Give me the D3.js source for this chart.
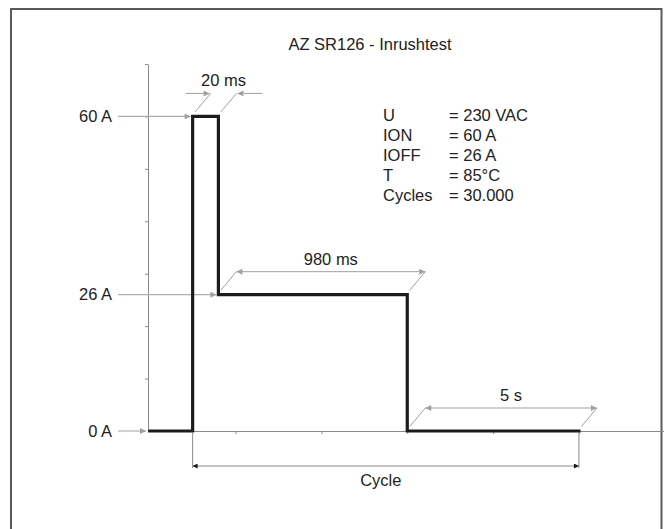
<!DOCTYPE html>
<html>
<head>
<meta charset="utf-8">
<script src="https://cdn.jsdelivr.net/npm/d3@7/dist/d3.min.js"></script>
<style>
  body { margin: 0; background: #fff; }
  svg text { font-family: Arial, "Liberation Sans", sans-serif; fill: #222; }
</style>
</head>
<body>
<div id="inrush-chart"></div>
<script>
// waveform of one test cycle (time in chart units, current in A)
var waveTime = [0, 0.5, 0.5, 0.8, 0.8, 3, 3, 5];
var waveCurrent = [0, 0, 60, 60, 26, 26, 0, 0];

// current levels marked on the left
var levelValues = [60, 26, 0];
var levelTargets = [0.5, 0.8, -0.02];   // where each level arrow points to

// dimension annotations
var dimLabels = ["20 ms", "980 ms", "5 s"];
var dimStart = [0.5, 0.8, 3];
var dimEnd = [0.8, 3, 5];
var dimBase = [60, 26, 0];

var cycleLabel = "Cycle";
var cycleStart = 0.5, cycleEnd = 5;

// test parameters
var paramNames = ["U", "ION", "IOFF", "T", "Cycles"];
var paramValues = ["= 230 VAC", "= 60 A", "= 26 A", "= 85°C", "= 30.000"];

var title = "AZ SR126 - Inrushtest";

var width = 664, height = 529;
var fs = 16.5;

var svg = d3.select("#inrush-chart").append("svg")
    .attr("width", width).attr("height", height);

var defs = svg.append("defs");
function marker(id, color, w, h) {
    defs.append("marker").attr("id", id)
        .attr("viewBox", "0 0 10 10").attr("refX", 10).attr("refY", 5)
        .attr("markerUnits", "userSpaceOnUse")
        .attr("markerWidth", w).attr("markerHeight", h)
        .attr("orient", "auto-start-reverse")
        .append("path").attr("d", "M0,0L10,5L0,10z").attr("fill", color);
}
marker("arr-gray", "#a0a0a0", 9, 6);
marker("arr-dark", "#1a1a1a", 7, 5);

var x = d3.scaleLinear().domain([-0.02, 6]).range([148, 664.8]);
var y = d3.scaleLinear().domain([0, 70]).range([431, 64]);

// frame
svg.append("rect").attr("x", 11).attr("y", 9).attr("width", 650.5).attr("height", 540)
    .attr("fill", "none").attr("stroke", "#5a5a5a").attr("stroke-width", 2);

svg.append("text").attr("x", 370).attr("y", 50).attr("text-anchor", "middle")
    .style("font-size", fs + "px").text(title);

// axes
var yAxis = svg.append("g").attr("transform", "translate(" + x(-0.02) + ",0)")
    .call(d3.axisLeft(y).tickValues([10, 20, 30, 40, 50, 60, 70]).tickFormat("").tickSizeInner(3).tickSizeOuter(0));
var xAxis = svg.append("g").attr("transform", "translate(0," + y(0) + ")")
    .call(d3.axisBottom(x).tickValues([1, 2, 3, 4, 5]).tickFormat("").tickSizeInner(3).tickSizeOuter(0));
svg.selectAll(".domain, .tick line").attr("stroke", "#8a8a8a").attr("stroke-width", 1);

// level arrows and labels
levelValues.forEach(function (v, i) {
    svg.append("line")
        .attr("x1", 118).attr("x2", x(levelTargets[i]) - 2)
        .attr("y1", y(v)).attr("y2", y(v))
        .attr("stroke", "#b0b0b0").attr("stroke-width", 1.2)
        .attr("marker-end", "url(#arr-gray)");
    svg.append("text").attr("x", 112).attr("y", y(v)).attr("dy", "0.35em")
        .attr("text-anchor", "end").style("font-size", fs + "px")
        .text(v + " A");
});

// waveform
var wave = waveTime.map(function (t, i) { return [t, waveCurrent[i]]; });
svg.append("path").datum(wave)
    .attr("d", d3.line().x(function (d) { return x(d[0]); }).y(function (d) { return y(d[1]); }))
    .attr("fill", "none").attr("stroke", "#1c1c1c").attr("stroke-width", 3.2)
    .attr("stroke-linejoin", "miter").attr("stroke-linecap", "square");

// slanted dimension annotations
var dimColor = "#a0a0a0";
dimLabels.forEach(function (lab, i) {
    var yb = y(dimBase[i]);
    var ay = yb - 23;
    var ends = [dimStart[i], dimEnd[i]].map(function (t) { return x(t) + 18; });
    [dimStart[i], dimEnd[i]].forEach(function (t, k) {
        svg.append("line")
            .attr("x1", x(t) + 2.5).attr("y1", yb - 4.5)
            .attr("x2", ends[k]).attr("y2", ay)
            .attr("stroke", dimColor).attr("stroke-width", 1);
    });
    if (x(dimEnd[i]) - x(dimStart[i]) < 40) {
        svg.append("line").attr("x1", ends[0] - 25).attr("x2", ends[0] - 1)
            .attr("y1", ay).attr("y2", ay)
            .attr("stroke", dimColor).attr("marker-end", "url(#arr-gray)");
        svg.append("line").attr("x1", ends[1] + 26).attr("x2", ends[1] + 1)
            .attr("y1", ay).attr("y2", ay)
            .attr("stroke", dimColor).attr("marker-end", "url(#arr-gray)");
    } else {
        svg.append("line").attr("x1", ends[0]).attr("x2", ends[1])
            .attr("y1", ay).attr("y2", ay)
            .attr("stroke", dimColor)
            .attr("marker-start", "url(#arr-gray)").attr("marker-end", "url(#arr-gray)");
    }
    svg.append("text").attr("x", (ends[0] + ends[1]) / 2).attr("y", ay - 7)
        .attr("text-anchor", "middle").style("font-size", fs + "px").text(lab);
});

// cycle dimension
var cy = y(0) + 35;
[cycleStart, cycleEnd].forEach(function (t) {
    svg.append("line").attr("x1", x(t)).attr("x2", x(t))
        .attr("y1", y(0) + 1).attr("y2", cy + 2)
        .attr("stroke", "#8a8a8a").attr("stroke-width", 1);
});
svg.append("line").attr("x1", x(cycleStart)).attr("x2", x(cycleEnd))
    .attr("y1", cy).attr("y2", cy)
    .attr("stroke", "#8a8a8a").attr("stroke-width", 1)
    .attr("marker-start", "url(#arr-dark)").attr("marker-end", "url(#arr-dark)");
svg.append("text").attr("x", (x(cycleStart) + x(cycleEnd)) / 2 - 5).attr("y", cy + 20)
    .attr("text-anchor", "middle").style("font-size", fs + "px").text(cycleLabel);

// parameter block
paramNames.forEach(function (n, i) {
    var by = 121 + i * 20;
    svg.append("text").attr("x", 383).attr("y", by).style("font-size", fs + "px").text(n);
    svg.append("text").attr("x", 449).attr("y", by).style("font-size", fs + "px").text(paramValues[i]);
});
</script>
</body>
</html>
